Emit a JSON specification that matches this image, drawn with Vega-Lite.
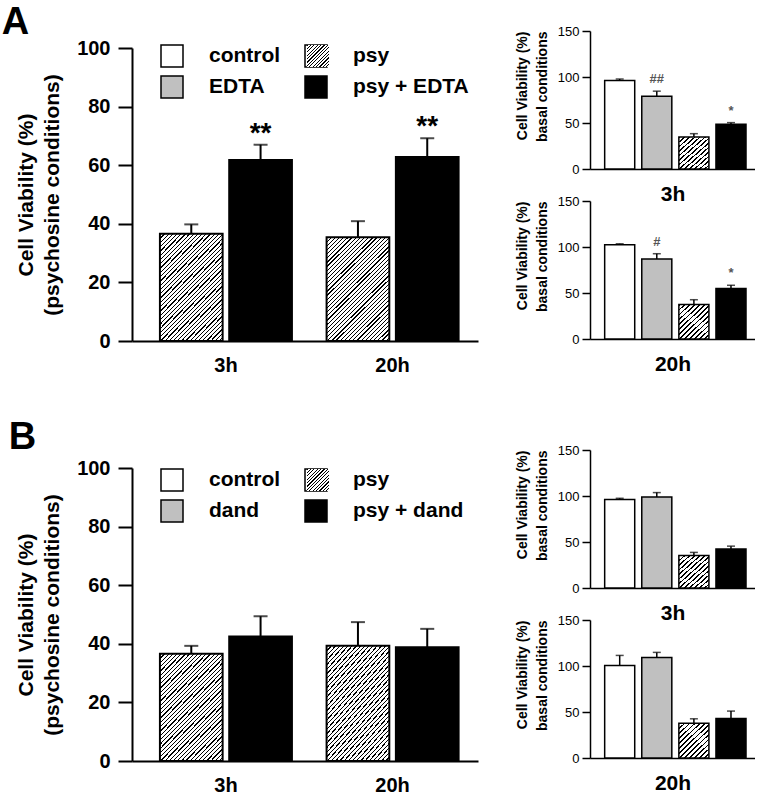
{
"$schema": "https://vega.github.io/schema/vega-lite/v6.json",
"padding": {"left": 1, "top": 4, "right": 0, "bottom": 0},
"title": {"text": "A", "anchor": "start", "fontSize": 38, "fontWeight": "bold", "color": "black", "baseline": "alphabetic", "offset": -47, "dx": -7},
"datasets": {
 "bigA": [
  {"time": "3h", "group": "psy", "value": 36.6, "err": 39.8, "note": ""},
  {"time": "3h", "group": "psy + EDTA", "value": 61.8, "err": 67.0, "note": "**"},
  {"time": "20h", "group": "psy", "value": 35.4, "err": 40.9, "note": ""},
  {"time": "20h", "group": "psy + EDTA", "value": 62.8, "err": 69.2, "note": "**"}
 ],
 "bigB": [
  {"time": "3h", "group": "psy", "value": 36.6, "err": 39.3, "note": ""},
  {"time": "3h", "group": "psy + dand", "value": 42.5, "err": 49.4, "note": ""},
  {"time": "20h", "group": "psy", "value": 39.3, "err": 47.4, "note": ""},
  {"time": "20h", "group": "psy + dand", "value": 38.8, "err": 45.1, "note": ""}
 ],
 "smA3": [
  {"group": "control", "value": 96.3, "err": 97.8, "note": ""},
  {"group": "EDTA", "value": 79.1, "err": 84.6, "note": "##"},
  {"group": "psy", "value": 34.8, "err": 38.4, "note": ""},
  {"group": "psy + EDTA", "value": 48.6, "err": 50.4, "note": "*"}
 ],
 "smA20": [
  {"group": "control", "value": 102.5, "err": 103.5, "note": ""},
  {"group": "EDTA", "value": 86.9, "err": 92.7, "note": "#"},
  {"group": "psy", "value": 37.6, "err": 42.7, "note": ""},
  {"group": "psy + EDTA", "value": 54.8, "err": 58.4, "note": "*"}
 ],
 "smB3": [
  {"group": "control", "value": 96.1, "err": 97.5, "note": ""},
  {"group": "dand", "value": 99.0, "err": 103.7, "note": ""},
  {"group": "psy", "value": 35.4, "err": 38.7, "note": ""},
  {"group": "psy + dand", "value": 42.3, "err": 45.5, "note": ""}
 ],
 "smB20": [
  {"group": "control", "value": 100.5, "err": 111.5, "note": ""},
  {"group": "dand", "value": 109.3, "err": 114.8, "note": ""},
  {"group": "psy", "value": 37.9, "err": 42.6, "note": ""},
  {"group": "psy + dand", "value": 43.0, "err": 51.0, "note": ""}
 ]
},
"config": {
 "font": "Liberation Sans",
 "view": {"stroke": null},
 "axis": {"domainColor": "black", "tickColor": "black", "labelColor": "black", "titleColor": "black", "grid": false}
},
"resolve": {"scale": {"fill": "independent", "opacity": "independent", "xOffset": "independent"}},
"spacing": 37,
"hconcat": [
 {
  "vconcat": [
   {
    "width": 346, "height": 310,
    "data": {"name": "bigA"},
    "encoding": {
     "x": {"field": "time", "type": "nominal", "title": null, "scale": {"domain": ["3h", "20h"], "paddingInner": 0.208, "paddingOuter": 0.142, "align": 0.59},
      "axis": {"labelAngle": 0, "labelFontSize": 20, "labelFontWeight": "bold", "labelPadding": 14, "ticks": false, "domainWidth": 2}},
     "xOffset": {"field": "group", "type": "nominal", "scale": {"domain": ["psy", "psy + EDTA"], "paddingInner": 0.095, "paddingOuter": 0}},
     "y": {"field": "value", "type": "quantitative", "title": ["Cell Viability (%)", "(psychosine conditions)"], "scale": {"domain": [0, 100], "nice": false, "range": [310, 17]},
      "axis": {"values": [0, 20, 40, 60, 80, 100], "labelFontSize": 20, "labelFontWeight": "bold", "labelPadding": 8, "tickSize": 14, "tickWidth": 2, "domainWidth": 2, "titleFontSize": 21, "titleFontWeight": "bold", "titleLineHeight": 26, "titlePadding": 14}}
    },
    "layer": [
     {"transform": [{"filter": "datum.group !== 'psy'"}],
      "mark": {"type": "bar", "stroke": "black", "strokeWidth": 2},
      "encoding": {
       "fill": {"field": "group", "type": "nominal", "scale": {"domain": ["control", "EDTA", "psy", "psy + EDTA"], "range": ["white", "#c0c0c0", "white", "black"]},
        "legend": {"title": null, "orient": "none", "legendX": 28, "legendY": 13, "padding": 0, "columns": 2, "columnPadding": 21, "rowPadding": 3,
         "symbolType": "square", "symbolSize": 484, "symbolStrokeColor": "black", "symbolStrokeWidth": 1.5,
         "labelFontSize": 21, "labelFontWeight": "bold", "labelColor": "black", "labelOffset": 25, "labelLimit": 300}}
      }},
     {"transform": [{"filter": "datum.group === 'psy'"}], "mark": {"type": "bar", "stroke": "black", "strokeWidth": 2, "fill": {"gradient": "linear", "x1": 0, "y1": 0, "x2": 0.706, "y2": 1.176, "stops": [
{"offset":0,"color":"#000"},{"offset":0.0075,"color":"#000"},{"offset":0.0075,"color":"#fff"},{"offset":0.025,"color":"#fff"},
{"offset":0.025,"color":"#000"},{"offset":0.0325,"color":"#000"},{"offset":0.0325,"color":"#fff"},{"offset":0.05,"color":"#fff"},
{"offset":0.05,"color":"#000"},{"offset":0.0575,"color":"#000"},{"offset":0.0575,"color":"#fff"},{"offset":0.075,"color":"#fff"},
{"offset":0.075,"color":"#000"},{"offset":0.0825,"color":"#000"},{"offset":0.0825,"color":"#fff"},{"offset":0.1,"color":"#fff"},
{"offset":0.1,"color":"#000"},{"offset":0.1075,"color":"#000"},{"offset":0.1075,"color":"#fff"},{"offset":0.125,"color":"#fff"},
{"offset":0.125,"color":"#000"},{"offset":0.1325,"color":"#000"},{"offset":0.1325,"color":"#fff"},{"offset":0.15,"color":"#fff"},
{"offset":0.15,"color":"#000"},{"offset":0.1575,"color":"#000"},{"offset":0.1575,"color":"#fff"},{"offset":0.175,"color":"#fff"},
{"offset":0.175,"color":"#000"},{"offset":0.1825,"color":"#000"},{"offset":0.1825,"color":"#fff"},{"offset":0.2,"color":"#fff"},
{"offset":0.2,"color":"#000"},{"offset":0.2075,"color":"#000"},{"offset":0.2075,"color":"#fff"},{"offset":0.225,"color":"#fff"},
{"offset":0.225,"color":"#000"},{"offset":0.2325,"color":"#000"},{"offset":0.2325,"color":"#fff"},{"offset":0.25,"color":"#fff"},
{"offset":0.25,"color":"#000"},{"offset":0.2575,"color":"#000"},{"offset":0.2575,"color":"#fff"},{"offset":0.275,"color":"#fff"},
{"offset":0.275,"color":"#000"},{"offset":0.2825,"color":"#000"},{"offset":0.2825,"color":"#fff"},{"offset":0.3,"color":"#fff"},
{"offset":0.3,"color":"#000"},{"offset":0.3075,"color":"#000"},{"offset":0.3075,"color":"#fff"},{"offset":0.325,"color":"#fff"},
{"offset":0.325,"color":"#000"},{"offset":0.3325,"color":"#000"},{"offset":0.3325,"color":"#fff"},{"offset":0.35,"color":"#fff"},
{"offset":0.35,"color":"#000"},{"offset":0.3575,"color":"#000"},{"offset":0.3575,"color":"#fff"},{"offset":0.375,"color":"#fff"},
{"offset":0.375,"color":"#000"},{"offset":0.3825,"color":"#000"},{"offset":0.3825,"color":"#fff"},{"offset":0.4,"color":"#fff"},
{"offset":0.4,"color":"#000"},{"offset":0.4075,"color":"#000"},{"offset":0.4075,"color":"#fff"},{"offset":0.425,"color":"#fff"},
{"offset":0.425,"color":"#000"},{"offset":0.4325,"color":"#000"},{"offset":0.4325,"color":"#fff"},{"offset":0.45,"color":"#fff"},
{"offset":0.45,"color":"#000"},{"offset":0.4575,"color":"#000"},{"offset":0.4575,"color":"#fff"},{"offset":0.475,"color":"#fff"},
{"offset":0.475,"color":"#000"},{"offset":0.4825,"color":"#000"},{"offset":0.4825,"color":"#fff"},{"offset":0.5,"color":"#fff"},
{"offset":0.5,"color":"#000"},{"offset":0.5075,"color":"#000"},{"offset":0.5075,"color":"#fff"},{"offset":0.525,"color":"#fff"},
{"offset":0.525,"color":"#000"},{"offset":0.5325,"color":"#000"},{"offset":0.5325,"color":"#fff"},{"offset":0.55,"color":"#fff"},
{"offset":0.55,"color":"#000"},{"offset":0.5575,"color":"#000"},{"offset":0.5575,"color":"#fff"},{"offset":0.575,"color":"#fff"},
{"offset":0.575,"color":"#000"},{"offset":0.5825,"color":"#000"},{"offset":0.5825,"color":"#fff"},{"offset":0.6,"color":"#fff"},
{"offset":0.6,"color":"#000"},{"offset":0.6075,"color":"#000"},{"offset":0.6075,"color":"#fff"},{"offset":0.625,"color":"#fff"},
{"offset":0.625,"color":"#000"},{"offset":0.6325,"color":"#000"},{"offset":0.6325,"color":"#fff"},{"offset":0.65,"color":"#fff"},
{"offset":0.65,"color":"#000"},{"offset":0.6575,"color":"#000"},{"offset":0.6575,"color":"#fff"},{"offset":0.675,"color":"#fff"},
{"offset":0.675,"color":"#000"},{"offset":0.6825,"color":"#000"},{"offset":0.6825,"color":"#fff"},{"offset":0.7,"color":"#fff"},
{"offset":0.7,"color":"#000"},{"offset":0.7075,"color":"#000"},{"offset":0.7075,"color":"#fff"},{"offset":0.725,"color":"#fff"},
{"offset":0.725,"color":"#000"},{"offset":0.7325,"color":"#000"},{"offset":0.7325,"color":"#fff"},{"offset":0.75,"color":"#fff"},
{"offset":0.75,"color":"#000"},{"offset":0.7575,"color":"#000"},{"offset":0.7575,"color":"#fff"},{"offset":0.775,"color":"#fff"},
{"offset":0.775,"color":"#000"},{"offset":0.7825,"color":"#000"},{"offset":0.7825,"color":"#fff"},{"offset":0.8,"color":"#fff"},
{"offset":0.8,"color":"#000"},{"offset":0.8075,"color":"#000"},{"offset":0.8075,"color":"#fff"},{"offset":0.825,"color":"#fff"},
{"offset":0.825,"color":"#000"},{"offset":0.8325,"color":"#000"},{"offset":0.8325,"color":"#fff"},{"offset":0.85,"color":"#fff"},
{"offset":0.85,"color":"#000"},{"offset":0.8575,"color":"#000"},{"offset":0.8575,"color":"#fff"},{"offset":0.875,"color":"#fff"},
{"offset":0.875,"color":"#000"},{"offset":0.8825,"color":"#000"},{"offset":0.8825,"color":"#fff"},{"offset":0.9,"color":"#fff"},
{"offset":0.9,"color":"#000"},{"offset":0.9075,"color":"#000"},{"offset":0.9075,"color":"#fff"},{"offset":0.925,"color":"#fff"},
{"offset":0.925,"color":"#000"},{"offset":0.9325,"color":"#000"},{"offset":0.9325,"color":"#fff"},{"offset":0.95,"color":"#fff"},
{"offset":0.95,"color":"#000"},{"offset":0.9575,"color":"#000"},{"offset":0.9575,"color":"#fff"},{"offset":0.975,"color":"#fff"},
{"offset":0.975,"color":"#000"},{"offset":0.9825,"color":"#000"},{"offset":0.9825,"color":"#fff"},{"offset":1,"color":"#fff"}
     ]}}},
     {"transform": [{"filter": "datum.group === 'none'"}], "mark": {"type": "bar", "stroke": "black", "strokeWidth": 1.5, "fill": {"gradient": "linear", "x1": 0, "y1": 0, "x2": 1, "y2": 1, "stops": [
{"offset":0,"color":"#000"},{"offset":0.0269,"color":"#000"},{"offset":0.0269,"color":"#fff"},{"offset":0.0769,"color":"#fff"},
{"offset":0.0769,"color":"#000"},{"offset":0.1038,"color":"#000"},{"offset":0.1038,"color":"#fff"},{"offset":0.1538,"color":"#fff"},
{"offset":0.1538,"color":"#000"},{"offset":0.1808,"color":"#000"},{"offset":0.1808,"color":"#fff"},{"offset":0.2308,"color":"#fff"},
{"offset":0.2308,"color":"#000"},{"offset":0.2577,"color":"#000"},{"offset":0.2577,"color":"#fff"},{"offset":0.3077,"color":"#fff"},
{"offset":0.3077,"color":"#000"},{"offset":0.3346,"color":"#000"},{"offset":0.3346,"color":"#fff"},{"offset":0.3846,"color":"#fff"},
{"offset":0.3846,"color":"#000"},{"offset":0.4115,"color":"#000"},{"offset":0.4115,"color":"#fff"},{"offset":0.4615,"color":"#fff"},
{"offset":0.4615,"color":"#000"},{"offset":0.4885,"color":"#000"},{"offset":0.4885,"color":"#fff"},{"offset":0.5385,"color":"#fff"},
{"offset":0.5385,"color":"#000"},{"offset":0.5654,"color":"#000"},{"offset":0.5654,"color":"#fff"},{"offset":0.6154,"color":"#fff"},
{"offset":0.6154,"color":"#000"},{"offset":0.6423,"color":"#000"},{"offset":0.6423,"color":"#fff"},{"offset":0.6923,"color":"#fff"},
{"offset":0.6923,"color":"#000"},{"offset":0.7192,"color":"#000"},{"offset":0.7192,"color":"#fff"},{"offset":0.7692,"color":"#fff"},
{"offset":0.7692,"color":"#000"},{"offset":0.7962,"color":"#000"},{"offset":0.7962,"color":"#fff"},{"offset":0.8462,"color":"#fff"},
{"offset":0.8462,"color":"#000"},{"offset":0.8731,"color":"#000"},{"offset":0.8731,"color":"#fff"},{"offset":0.9231,"color":"#fff"},
{"offset":0.9231,"color":"#000"},{"offset":0.95,"color":"#000"},{"offset":0.95,"color":"#fff"},{"offset":1,"color":"#fff"}
     ]}},
      "encoding": {"opacity": {"field": "group", "type": "ordinal", "scale": {"domain": ["psy"], "range": [1]},
       "legend": {"title": null, "orient": "none", "legendX": 174, "legendY": 13, "padding": 0, "symbolType": "square", "symbolSize": 484, "symbolStrokeColor": "black", "symbolStrokeWidth": 1.5, "symbolOpacity": 1, "labelExpr": "''", "labelFontSize": 1}}}},
     {"mark": {"type": "rule", "color": "black", "strokeWidth": 2}, "encoding": {"y2": {"field": "err"}}},
     {"mark": {"type": "tick", "color": "black", "size": 14, "thickness": 2}, "encoding": {"y": {"field": "err", "type": "quantitative"}}},
     {"transform": [{"filter": "datum.note !== ''"}], "mark": {"type": "text", "fontSize": 28, "fontWeight": "bold", "baseline": "alphabetic", "dy": -3, "color": "black"},
      "encoding": {"y": {"field": "err", "type": "quantitative"}, "text": {"field": "note"}}}
    ]
   },
   {
    "width": 346, "height": 293,
    "title": {"text": "B", "anchor": "start", "fontSize": 38, "fontWeight": "bold", "color": "black", "baseline": "alphabetic", "offset": -29, "dx": -7},
    "data": {"name": "bigB"},
    "encoding": {
     "x": {"field": "time", "type": "nominal", "title": null, "scale": {"domain": ["3h", "20h"], "paddingInner": 0.208, "paddingOuter": 0.142, "align": 0.59},
      "axis": {"labelAngle": 0, "labelFontSize": 20, "labelFontWeight": "bold", "labelPadding": 14, "ticks": false, "domainWidth": 2}},
     "xOffset": {"field": "group", "type": "nominal", "scale": {"domain": ["psy", "psy + dand"], "paddingInner": 0.095, "paddingOuter": 0}},
     "y": {"field": "value", "type": "quantitative", "title": ["Cell Viability (%)", "(psychosine conditions)"], "scale": {"domain": [0, 100], "nice": false},
      "axis": {"values": [0, 20, 40, 60, 80, 100], "labelFontSize": 20, "labelFontWeight": "bold", "labelPadding": 8, "tickSize": 14, "tickWidth": 2, "domainWidth": 2, "titleFontSize": 21, "titleFontWeight": "bold", "titleLineHeight": 26, "titlePadding": 14}}
    },
    "layer": [
     {"transform": [{"filter": "datum.group !== 'psy'"}],
      "mark": {"type": "bar", "stroke": "black", "strokeWidth": 2},
      "encoding": {
       "fill": {"field": "group", "type": "nominal", "scale": {"domain": ["control", "dand", "psy", "psy + dand"], "range": ["white", "#c0c0c0", "white", "black"]},
        "legend": {"title": null, "orient": "none", "legendX": 28, "legendY": 0, "padding": 0, "columns": 2, "columnPadding": 21, "rowPadding": 3,
         "symbolType": "square", "symbolSize": 484, "symbolStrokeColor": "black", "symbolStrokeWidth": 1.5,
         "labelFontSize": 21, "labelFontWeight": "bold", "labelColor": "black", "labelOffset": 25, "labelLimit": 300}}
      }},
     {"transform": [{"filter": "datum.group === 'psy'"}], "mark": {"type": "bar", "stroke": "black", "strokeWidth": 2, "fill": {"gradient": "linear", "x1": 0, "y1": 0, "x2": 0.706, "y2": 1.176, "stops": [
{"offset":0,"color":"#000"},{"offset":0.0075,"color":"#000"},{"offset":0.0075,"color":"#fff"},{"offset":0.025,"color":"#fff"},
{"offset":0.025,"color":"#000"},{"offset":0.0325,"color":"#000"},{"offset":0.0325,"color":"#fff"},{"offset":0.05,"color":"#fff"},
{"offset":0.05,"color":"#000"},{"offset":0.0575,"color":"#000"},{"offset":0.0575,"color":"#fff"},{"offset":0.075,"color":"#fff"},
{"offset":0.075,"color":"#000"},{"offset":0.0825,"color":"#000"},{"offset":0.0825,"color":"#fff"},{"offset":0.1,"color":"#fff"},
{"offset":0.1,"color":"#000"},{"offset":0.1075,"color":"#000"},{"offset":0.1075,"color":"#fff"},{"offset":0.125,"color":"#fff"},
{"offset":0.125,"color":"#000"},{"offset":0.1325,"color":"#000"},{"offset":0.1325,"color":"#fff"},{"offset":0.15,"color":"#fff"},
{"offset":0.15,"color":"#000"},{"offset":0.1575,"color":"#000"},{"offset":0.1575,"color":"#fff"},{"offset":0.175,"color":"#fff"},
{"offset":0.175,"color":"#000"},{"offset":0.1825,"color":"#000"},{"offset":0.1825,"color":"#fff"},{"offset":0.2,"color":"#fff"},
{"offset":0.2,"color":"#000"},{"offset":0.2075,"color":"#000"},{"offset":0.2075,"color":"#fff"},{"offset":0.225,"color":"#fff"},
{"offset":0.225,"color":"#000"},{"offset":0.2325,"color":"#000"},{"offset":0.2325,"color":"#fff"},{"offset":0.25,"color":"#fff"},
{"offset":0.25,"color":"#000"},{"offset":0.2575,"color":"#000"},{"offset":0.2575,"color":"#fff"},{"offset":0.275,"color":"#fff"},
{"offset":0.275,"color":"#000"},{"offset":0.2825,"color":"#000"},{"offset":0.2825,"color":"#fff"},{"offset":0.3,"color":"#fff"},
{"offset":0.3,"color":"#000"},{"offset":0.3075,"color":"#000"},{"offset":0.3075,"color":"#fff"},{"offset":0.325,"color":"#fff"},
{"offset":0.325,"color":"#000"},{"offset":0.3325,"color":"#000"},{"offset":0.3325,"color":"#fff"},{"offset":0.35,"color":"#fff"},
{"offset":0.35,"color":"#000"},{"offset":0.3575,"color":"#000"},{"offset":0.3575,"color":"#fff"},{"offset":0.375,"color":"#fff"},
{"offset":0.375,"color":"#000"},{"offset":0.3825,"color":"#000"},{"offset":0.3825,"color":"#fff"},{"offset":0.4,"color":"#fff"},
{"offset":0.4,"color":"#000"},{"offset":0.4075,"color":"#000"},{"offset":0.4075,"color":"#fff"},{"offset":0.425,"color":"#fff"},
{"offset":0.425,"color":"#000"},{"offset":0.4325,"color":"#000"},{"offset":0.4325,"color":"#fff"},{"offset":0.45,"color":"#fff"},
{"offset":0.45,"color":"#000"},{"offset":0.4575,"color":"#000"},{"offset":0.4575,"color":"#fff"},{"offset":0.475,"color":"#fff"},
{"offset":0.475,"color":"#000"},{"offset":0.4825,"color":"#000"},{"offset":0.4825,"color":"#fff"},{"offset":0.5,"color":"#fff"},
{"offset":0.5,"color":"#000"},{"offset":0.5075,"color":"#000"},{"offset":0.5075,"color":"#fff"},{"offset":0.525,"color":"#fff"},
{"offset":0.525,"color":"#000"},{"offset":0.5325,"color":"#000"},{"offset":0.5325,"color":"#fff"},{"offset":0.55,"color":"#fff"},
{"offset":0.55,"color":"#000"},{"offset":0.5575,"color":"#000"},{"offset":0.5575,"color":"#fff"},{"offset":0.575,"color":"#fff"},
{"offset":0.575,"color":"#000"},{"offset":0.5825,"color":"#000"},{"offset":0.5825,"color":"#fff"},{"offset":0.6,"color":"#fff"},
{"offset":0.6,"color":"#000"},{"offset":0.6075,"color":"#000"},{"offset":0.6075,"color":"#fff"},{"offset":0.625,"color":"#fff"},
{"offset":0.625,"color":"#000"},{"offset":0.6325,"color":"#000"},{"offset":0.6325,"color":"#fff"},{"offset":0.65,"color":"#fff"},
{"offset":0.65,"color":"#000"},{"offset":0.6575,"color":"#000"},{"offset":0.6575,"color":"#fff"},{"offset":0.675,"color":"#fff"},
{"offset":0.675,"color":"#000"},{"offset":0.6825,"color":"#000"},{"offset":0.6825,"color":"#fff"},{"offset":0.7,"color":"#fff"},
{"offset":0.7,"color":"#000"},{"offset":0.7075,"color":"#000"},{"offset":0.7075,"color":"#fff"},{"offset":0.725,"color":"#fff"},
{"offset":0.725,"color":"#000"},{"offset":0.7325,"color":"#000"},{"offset":0.7325,"color":"#fff"},{"offset":0.75,"color":"#fff"},
{"offset":0.75,"color":"#000"},{"offset":0.7575,"color":"#000"},{"offset":0.7575,"color":"#fff"},{"offset":0.775,"color":"#fff"},
{"offset":0.775,"color":"#000"},{"offset":0.7825,"color":"#000"},{"offset":0.7825,"color":"#fff"},{"offset":0.8,"color":"#fff"},
{"offset":0.8,"color":"#000"},{"offset":0.8075,"color":"#000"},{"offset":0.8075,"color":"#fff"},{"offset":0.825,"color":"#fff"},
{"offset":0.825,"color":"#000"},{"offset":0.8325,"color":"#000"},{"offset":0.8325,"color":"#fff"},{"offset":0.85,"color":"#fff"},
{"offset":0.85,"color":"#000"},{"offset":0.8575,"color":"#000"},{"offset":0.8575,"color":"#fff"},{"offset":0.875,"color":"#fff"},
{"offset":0.875,"color":"#000"},{"offset":0.8825,"color":"#000"},{"offset":0.8825,"color":"#fff"},{"offset":0.9,"color":"#fff"},
{"offset":0.9,"color":"#000"},{"offset":0.9075,"color":"#000"},{"offset":0.9075,"color":"#fff"},{"offset":0.925,"color":"#fff"},
{"offset":0.925,"color":"#000"},{"offset":0.9325,"color":"#000"},{"offset":0.9325,"color":"#fff"},{"offset":0.95,"color":"#fff"},
{"offset":0.95,"color":"#000"},{"offset":0.9575,"color":"#000"},{"offset":0.9575,"color":"#fff"},{"offset":0.975,"color":"#fff"},
{"offset":0.975,"color":"#000"},{"offset":0.9825,"color":"#000"},{"offset":0.9825,"color":"#fff"},{"offset":1,"color":"#fff"}
     ]}}},
     {"transform": [{"filter": "datum.group === 'none'"}], "mark": {"type": "bar", "stroke": "black", "strokeWidth": 1.5, "fill": {"gradient": "linear", "x1": 0, "y1": 0, "x2": 1, "y2": 1, "stops": [
{"offset":0,"color":"#000"},{"offset":0.0269,"color":"#000"},{"offset":0.0269,"color":"#fff"},{"offset":0.0769,"color":"#fff"},
{"offset":0.0769,"color":"#000"},{"offset":0.1038,"color":"#000"},{"offset":0.1038,"color":"#fff"},{"offset":0.1538,"color":"#fff"},
{"offset":0.1538,"color":"#000"},{"offset":0.1808,"color":"#000"},{"offset":0.1808,"color":"#fff"},{"offset":0.2308,"color":"#fff"},
{"offset":0.2308,"color":"#000"},{"offset":0.2577,"color":"#000"},{"offset":0.2577,"color":"#fff"},{"offset":0.3077,"color":"#fff"},
{"offset":0.3077,"color":"#000"},{"offset":0.3346,"color":"#000"},{"offset":0.3346,"color":"#fff"},{"offset":0.3846,"color":"#fff"},
{"offset":0.3846,"color":"#000"},{"offset":0.4115,"color":"#000"},{"offset":0.4115,"color":"#fff"},{"offset":0.4615,"color":"#fff"},
{"offset":0.4615,"color":"#000"},{"offset":0.4885,"color":"#000"},{"offset":0.4885,"color":"#fff"},{"offset":0.5385,"color":"#fff"},
{"offset":0.5385,"color":"#000"},{"offset":0.5654,"color":"#000"},{"offset":0.5654,"color":"#fff"},{"offset":0.6154,"color":"#fff"},
{"offset":0.6154,"color":"#000"},{"offset":0.6423,"color":"#000"},{"offset":0.6423,"color":"#fff"},{"offset":0.6923,"color":"#fff"},
{"offset":0.6923,"color":"#000"},{"offset":0.7192,"color":"#000"},{"offset":0.7192,"color":"#fff"},{"offset":0.7692,"color":"#fff"},
{"offset":0.7692,"color":"#000"},{"offset":0.7962,"color":"#000"},{"offset":0.7962,"color":"#fff"},{"offset":0.8462,"color":"#fff"},
{"offset":0.8462,"color":"#000"},{"offset":0.8731,"color":"#000"},{"offset":0.8731,"color":"#fff"},{"offset":0.9231,"color":"#fff"},
{"offset":0.9231,"color":"#000"},{"offset":0.95,"color":"#000"},{"offset":0.95,"color":"#fff"},{"offset":1,"color":"#fff"}
     ]}},
      "encoding": {"opacity": {"field": "group", "type": "ordinal", "scale": {"domain": ["psy"], "range": [1]},
       "legend": {"title": null, "orient": "none", "legendX": 174, "legendY": 0, "padding": 0, "symbolType": "square", "symbolSize": 484, "symbolStrokeColor": "black", "symbolStrokeWidth": 1.5, "symbolOpacity": 1, "labelExpr": "''", "labelFontSize": 1}}}},
     {"mark": {"type": "rule", "color": "black", "strokeWidth": 2}, "encoding": {"y2": {"field": "err"}}},
     {"mark": {"type": "tick", "color": "black", "size": 14, "thickness": 2}, "encoding": {"y": {"field": "err", "type": "quantitative"}}}
    ]
   }
  ],
  "bounds": "flush",
  "spacing": 127,
  "resolve": {"scale": {"fill": "independent", "opacity": "independent", "xOffset": "independent"}}
 },
 {
  "vconcat": [
   {
    "vconcat": [
     {
      "width": 165, "height": 138,
      "data": {"name": "smA3"},
      "encoding": {
       "x": {"field": "group", "type": "nominal", "title": "3h", "scale": {"domain": ["control", "EDTA", "psy", "psy + EDTA"], "paddingInner": 0.19, "paddingOuter": 0.319, "align": 0.62},
        "axis": {"labels": false, "ticks": false, "domainWidth": 1.5, "titleFontSize": 21, "titleFontWeight": "bold", "titlePadding": 14}},
       "y": {"field": "value", "type": "quantitative", "title": ["Cell Viability (%)", "basal conditions"], "scale": {"domain": [0, 150], "nice": false},
        "axis": {"values": [0, 50, 100, 150], "labelFontSize": 13, "labelPadding": 3, "tickSize": 8, "tickWidth": 1.5, "domainWidth": 1.5, "titleFontSize": 14, "titleFontWeight": "bold", "titleLineHeight": 20, "titlePadding": 8, "titleAnchor": "end"}}
      },
      "layer": [
       {"transform": [{"filter": "datum.group !== 'psy'"}], "mark": {"type": "bar", "stroke": "black", "strokeWidth": 1.5},
        "encoding": {"fill": {"field": "group", "type": "nominal", "scale": {"domain": ["control", "EDTA", "psy + EDTA"], "range": ["white", "#c0c0c0", "black"]}, "legend": null}}},
       {"transform": [{"filter": "datum.group === 'psy'"}], "mark": {"type": "bar", "stroke": "black", "strokeWidth": 1.5, "fill": {"gradient": "linear", "x1": 0, "y1": 0, "x2": 0.898, "y2": 1.084, "stops": [
{"offset":0,"color":"#000"},{"offset":0.0269,"color":"#000"},{"offset":0.0269,"color":"#fff"},{"offset":0.0769,"color":"#fff"},
{"offset":0.0769,"color":"#000"},{"offset":0.1038,"color":"#000"},{"offset":0.1038,"color":"#fff"},{"offset":0.1538,"color":"#fff"},
{"offset":0.1538,"color":"#000"},{"offset":0.1808,"color":"#000"},{"offset":0.1808,"color":"#fff"},{"offset":0.2308,"color":"#fff"},
{"offset":0.2308,"color":"#000"},{"offset":0.2577,"color":"#000"},{"offset":0.2577,"color":"#fff"},{"offset":0.3077,"color":"#fff"},
{"offset":0.3077,"color":"#000"},{"offset":0.3346,"color":"#000"},{"offset":0.3346,"color":"#fff"},{"offset":0.3846,"color":"#fff"},
{"offset":0.3846,"color":"#000"},{"offset":0.4115,"color":"#000"},{"offset":0.4115,"color":"#fff"},{"offset":0.4615,"color":"#fff"},
{"offset":0.4615,"color":"#000"},{"offset":0.4885,"color":"#000"},{"offset":0.4885,"color":"#fff"},{"offset":0.5385,"color":"#fff"},
{"offset":0.5385,"color":"#000"},{"offset":0.5654,"color":"#000"},{"offset":0.5654,"color":"#fff"},{"offset":0.6154,"color":"#fff"},
{"offset":0.6154,"color":"#000"},{"offset":0.6423,"color":"#000"},{"offset":0.6423,"color":"#fff"},{"offset":0.6923,"color":"#fff"},
{"offset":0.6923,"color":"#000"},{"offset":0.7192,"color":"#000"},{"offset":0.7192,"color":"#fff"},{"offset":0.7692,"color":"#fff"},
{"offset":0.7692,"color":"#000"},{"offset":0.7962,"color":"#000"},{"offset":0.7962,"color":"#fff"},{"offset":0.8462,"color":"#fff"},
{"offset":0.8462,"color":"#000"},{"offset":0.8731,"color":"#000"},{"offset":0.8731,"color":"#fff"},{"offset":0.9231,"color":"#fff"},
{"offset":0.9231,"color":"#000"},{"offset":0.95,"color":"#000"},{"offset":0.95,"color":"#fff"},{"offset":1,"color":"#fff"}
       ]}}},
       {"mark": {"type": "rule", "color": "black", "strokeWidth": 1.5}, "encoding": {"y2": {"field": "err"}}},
       {"mark": {"type": "tick", "color": "black", "size": 8, "thickness": 1.5}, "encoding": {"y": {"field": "err", "type": "quantitative"}}},
       {"transform": [{"filter": "datum.note !== ''"}], "mark": {"type": "text", "fontSize": 13, "fontWeight": "bold", "color": "#555", "baseline": "middle", "dy": -12},
        "encoding": {"y": {"field": "err", "type": "quantitative"}, "text": {"field": "note"}}}
      ]
     },
     {
      "width": 165, "height": 138,
      "data": {"name": "smA20"},
      "encoding": {
       "x": {"field": "group", "type": "nominal", "title": "20h", "scale": {"domain": ["control", "EDTA", "psy", "psy + EDTA"], "paddingInner": 0.19, "paddingOuter": 0.319, "align": 0.62},
        "axis": {"labels": false, "ticks": false, "domainWidth": 1.5, "titleFontSize": 21, "titleFontWeight": "bold", "titlePadding": 14}},
       "y": {"field": "value", "type": "quantitative", "title": ["Cell Viability (%)", "basal conditions"], "scale": {"domain": [0, 150], "nice": false},
        "axis": {"values": [0, 50, 100, 150], "labelFontSize": 13, "labelPadding": 3, "tickSize": 8, "tickWidth": 1.5, "domainWidth": 1.5, "titleFontSize": 14, "titleFontWeight": "bold", "titleLineHeight": 20, "titlePadding": 8, "titleAnchor": "end"}}
      },
      "layer": [
       {"transform": [{"filter": "datum.group !== 'psy'"}], "mark": {"type": "bar", "stroke": "black", "strokeWidth": 1.5},
        "encoding": {"fill": {"field": "group", "type": "nominal", "scale": {"domain": ["control", "EDTA", "psy + EDTA"], "range": ["white", "#c0c0c0", "black"]}, "legend": null}}},
       {"transform": [{"filter": "datum.group === 'psy'"}], "mark": {"type": "bar", "stroke": "black", "strokeWidth": 1.5, "fill": {"gradient": "linear", "x1": 0, "y1": 0, "x2": 0.898, "y2": 1.084, "stops": [
{"offset":0,"color":"#000"},{"offset":0.0269,"color":"#000"},{"offset":0.0269,"color":"#fff"},{"offset":0.0769,"color":"#fff"},
{"offset":0.0769,"color":"#000"},{"offset":0.1038,"color":"#000"},{"offset":0.1038,"color":"#fff"},{"offset":0.1538,"color":"#fff"},
{"offset":0.1538,"color":"#000"},{"offset":0.1808,"color":"#000"},{"offset":0.1808,"color":"#fff"},{"offset":0.2308,"color":"#fff"},
{"offset":0.2308,"color":"#000"},{"offset":0.2577,"color":"#000"},{"offset":0.2577,"color":"#fff"},{"offset":0.3077,"color":"#fff"},
{"offset":0.3077,"color":"#000"},{"offset":0.3346,"color":"#000"},{"offset":0.3346,"color":"#fff"},{"offset":0.3846,"color":"#fff"},
{"offset":0.3846,"color":"#000"},{"offset":0.4115,"color":"#000"},{"offset":0.4115,"color":"#fff"},{"offset":0.4615,"color":"#fff"},
{"offset":0.4615,"color":"#000"},{"offset":0.4885,"color":"#000"},{"offset":0.4885,"color":"#fff"},{"offset":0.5385,"color":"#fff"},
{"offset":0.5385,"color":"#000"},{"offset":0.5654,"color":"#000"},{"offset":0.5654,"color":"#fff"},{"offset":0.6154,"color":"#fff"},
{"offset":0.6154,"color":"#000"},{"offset":0.6423,"color":"#000"},{"offset":0.6423,"color":"#fff"},{"offset":0.6923,"color":"#fff"},
{"offset":0.6923,"color":"#000"},{"offset":0.7192,"color":"#000"},{"offset":0.7192,"color":"#fff"},{"offset":0.7692,"color":"#fff"},
{"offset":0.7692,"color":"#000"},{"offset":0.7962,"color":"#000"},{"offset":0.7962,"color":"#fff"},{"offset":0.8462,"color":"#fff"},
{"offset":0.8462,"color":"#000"},{"offset":0.8731,"color":"#000"},{"offset":0.8731,"color":"#fff"},{"offset":0.9231,"color":"#fff"},
{"offset":0.9231,"color":"#000"},{"offset":0.95,"color":"#000"},{"offset":0.95,"color":"#fff"},{"offset":1,"color":"#fff"}
       ]}}},
       {"mark": {"type": "rule", "color": "black", "strokeWidth": 1.5}, "encoding": {"y2": {"field": "err"}}},
       {"mark": {"type": "tick", "color": "black", "size": 8, "thickness": 1.5}, "encoding": {"y": {"field": "err", "type": "quantitative"}}},
       {"transform": [{"filter": "datum.note !== ''"}], "mark": {"type": "text", "fontSize": 13, "fontWeight": "bold", "color": "#555", "baseline": "middle", "dy": -12},
        "encoding": {"y": {"field": "err", "type": "quantitative"}, "text": {"field": "note"}}}
      ]
     }
    ],
    "bounds": "flush",
    "spacing": 32,
    "resolve": {"scale": {"fill": "independent"}}
   },
   {
    "vconcat": [
     {
      "width": 165, "height": 138,
      "data": {"name": "smB3"},
      "encoding": {
       "x": {"field": "group", "type": "nominal", "title": "3h", "scale": {"domain": ["control", "dand", "psy", "psy + dand"], "paddingInner": 0.19, "paddingOuter": 0.319, "align": 0.62},
        "axis": {"labels": false, "ticks": false, "domainWidth": 1.5, "titleFontSize": 21, "titleFontWeight": "bold", "titlePadding": 14}},
       "y": {"field": "value", "type": "quantitative", "title": ["Cell Viability (%)", "basal conditions"], "scale": {"domain": [0, 150], "nice": false},
        "axis": {"values": [0, 50, 100, 150], "labelFontSize": 13, "labelPadding": 3, "tickSize": 8, "tickWidth": 1.5, "domainWidth": 1.5, "titleFontSize": 14, "titleFontWeight": "bold", "titleLineHeight": 20, "titlePadding": 8, "titleAnchor": "end"}}
      },
      "layer": [
       {"transform": [{"filter": "datum.group !== 'psy'"}], "mark": {"type": "bar", "stroke": "black", "strokeWidth": 1.5},
        "encoding": {"fill": {"field": "group", "type": "nominal", "scale": {"domain": ["control", "dand", "psy + dand"], "range": ["white", "#c0c0c0", "black"]}, "legend": null}}},
       {"transform": [{"filter": "datum.group === 'psy'"}], "mark": {"type": "bar", "stroke": "black", "strokeWidth": 1.5, "fill": {"gradient": "linear", "x1": 0, "y1": 0, "x2": 0.898, "y2": 1.084, "stops": [
{"offset":0,"color":"#000"},{"offset":0.0269,"color":"#000"},{"offset":0.0269,"color":"#fff"},{"offset":0.0769,"color":"#fff"},
{"offset":0.0769,"color":"#000"},{"offset":0.1038,"color":"#000"},{"offset":0.1038,"color":"#fff"},{"offset":0.1538,"color":"#fff"},
{"offset":0.1538,"color":"#000"},{"offset":0.1808,"color":"#000"},{"offset":0.1808,"color":"#fff"},{"offset":0.2308,"color":"#fff"},
{"offset":0.2308,"color":"#000"},{"offset":0.2577,"color":"#000"},{"offset":0.2577,"color":"#fff"},{"offset":0.3077,"color":"#fff"},
{"offset":0.3077,"color":"#000"},{"offset":0.3346,"color":"#000"},{"offset":0.3346,"color":"#fff"},{"offset":0.3846,"color":"#fff"},
{"offset":0.3846,"color":"#000"},{"offset":0.4115,"color":"#000"},{"offset":0.4115,"color":"#fff"},{"offset":0.4615,"color":"#fff"},
{"offset":0.4615,"color":"#000"},{"offset":0.4885,"color":"#000"},{"offset":0.4885,"color":"#fff"},{"offset":0.5385,"color":"#fff"},
{"offset":0.5385,"color":"#000"},{"offset":0.5654,"color":"#000"},{"offset":0.5654,"color":"#fff"},{"offset":0.6154,"color":"#fff"},
{"offset":0.6154,"color":"#000"},{"offset":0.6423,"color":"#000"},{"offset":0.6423,"color":"#fff"},{"offset":0.6923,"color":"#fff"},
{"offset":0.6923,"color":"#000"},{"offset":0.7192,"color":"#000"},{"offset":0.7192,"color":"#fff"},{"offset":0.7692,"color":"#fff"},
{"offset":0.7692,"color":"#000"},{"offset":0.7962,"color":"#000"},{"offset":0.7962,"color":"#fff"},{"offset":0.8462,"color":"#fff"},
{"offset":0.8462,"color":"#000"},{"offset":0.8731,"color":"#000"},{"offset":0.8731,"color":"#fff"},{"offset":0.9231,"color":"#fff"},
{"offset":0.9231,"color":"#000"},{"offset":0.95,"color":"#000"},{"offset":0.95,"color":"#fff"},{"offset":1,"color":"#fff"}
       ]}}},
       {"mark": {"type": "rule", "color": "black", "strokeWidth": 1.5}, "encoding": {"y2": {"field": "err"}}},
       {"mark": {"type": "tick", "color": "black", "size": 8, "thickness": 1.5}, "encoding": {"y": {"field": "err", "type": "quantitative"}}}
      ]
     },
     {
      "width": 165, "height": 138,
      "data": {"name": "smB20"},
      "encoding": {
       "x": {"field": "group", "type": "nominal", "title": "20h", "scale": {"domain": ["control", "dand", "psy", "psy + dand"], "paddingInner": 0.19, "paddingOuter": 0.319, "align": 0.62},
        "axis": {"labels": false, "ticks": false, "domainWidth": 1.5, "titleFontSize": 21, "titleFontWeight": "bold", "titlePadding": 14}},
       "y": {"field": "value", "type": "quantitative", "title": ["Cell Viability (%)", "basal conditions"], "scale": {"domain": [0, 150], "nice": false},
        "axis": {"values": [0, 50, 100, 150], "labelFontSize": 13, "labelPadding": 3, "tickSize": 8, "tickWidth": 1.5, "domainWidth": 1.5, "titleFontSize": 14, "titleFontWeight": "bold", "titleLineHeight": 20, "titlePadding": 8, "titleAnchor": "end"}}
      },
      "layer": [
       {"transform": [{"filter": "datum.group !== 'psy'"}], "mark": {"type": "bar", "stroke": "black", "strokeWidth": 1.5},
        "encoding": {"fill": {"field": "group", "type": "nominal", "scale": {"domain": ["control", "dand", "psy + dand"], "range": ["white", "#c0c0c0", "black"]}, "legend": null}}},
       {"transform": [{"filter": "datum.group === 'psy'"}], "mark": {"type": "bar", "stroke": "black", "strokeWidth": 1.5, "fill": {"gradient": "linear", "x1": 0, "y1": 0, "x2": 0.898, "y2": 1.084, "stops": [
{"offset":0,"color":"#000"},{"offset":0.0269,"color":"#000"},{"offset":0.0269,"color":"#fff"},{"offset":0.0769,"color":"#fff"},
{"offset":0.0769,"color":"#000"},{"offset":0.1038,"color":"#000"},{"offset":0.1038,"color":"#fff"},{"offset":0.1538,"color":"#fff"},
{"offset":0.1538,"color":"#000"},{"offset":0.1808,"color":"#000"},{"offset":0.1808,"color":"#fff"},{"offset":0.2308,"color":"#fff"},
{"offset":0.2308,"color":"#000"},{"offset":0.2577,"color":"#000"},{"offset":0.2577,"color":"#fff"},{"offset":0.3077,"color":"#fff"},
{"offset":0.3077,"color":"#000"},{"offset":0.3346,"color":"#000"},{"offset":0.3346,"color":"#fff"},{"offset":0.3846,"color":"#fff"},
{"offset":0.3846,"color":"#000"},{"offset":0.4115,"color":"#000"},{"offset":0.4115,"color":"#fff"},{"offset":0.4615,"color":"#fff"},
{"offset":0.4615,"color":"#000"},{"offset":0.4885,"color":"#000"},{"offset":0.4885,"color":"#fff"},{"offset":0.5385,"color":"#fff"},
{"offset":0.5385,"color":"#000"},{"offset":0.5654,"color":"#000"},{"offset":0.5654,"color":"#fff"},{"offset":0.6154,"color":"#fff"},
{"offset":0.6154,"color":"#000"},{"offset":0.6423,"color":"#000"},{"offset":0.6423,"color":"#fff"},{"offset":0.6923,"color":"#fff"},
{"offset":0.6923,"color":"#000"},{"offset":0.7192,"color":"#000"},{"offset":0.7192,"color":"#fff"},{"offset":0.7692,"color":"#fff"},
{"offset":0.7692,"color":"#000"},{"offset":0.7962,"color":"#000"},{"offset":0.7962,"color":"#fff"},{"offset":0.8462,"color":"#fff"},
{"offset":0.8462,"color":"#000"},{"offset":0.8731,"color":"#000"},{"offset":0.8731,"color":"#fff"},{"offset":0.9231,"color":"#fff"},
{"offset":0.9231,"color":"#000"},{"offset":0.95,"color":"#000"},{"offset":0.95,"color":"#fff"},{"offset":1,"color":"#fff"}
       ]}}},
       {"mark": {"type": "rule", "color": "black", "strokeWidth": 1.5}, "encoding": {"y2": {"field": "err"}}},
       {"mark": {"type": "tick", "color": "black", "size": 8, "thickness": 1.5}, "encoding": {"y": {"field": "err", "type": "quantitative"}}}
      ]
     }
    ],
    "bounds": "flush",
    "spacing": 32,
    "resolve": {"scale": {"fill": "independent"}}
   }
  ],
  "spacing": 70,
  "resolve": {"scale": {"fill": "independent"}}
 }
]
}
